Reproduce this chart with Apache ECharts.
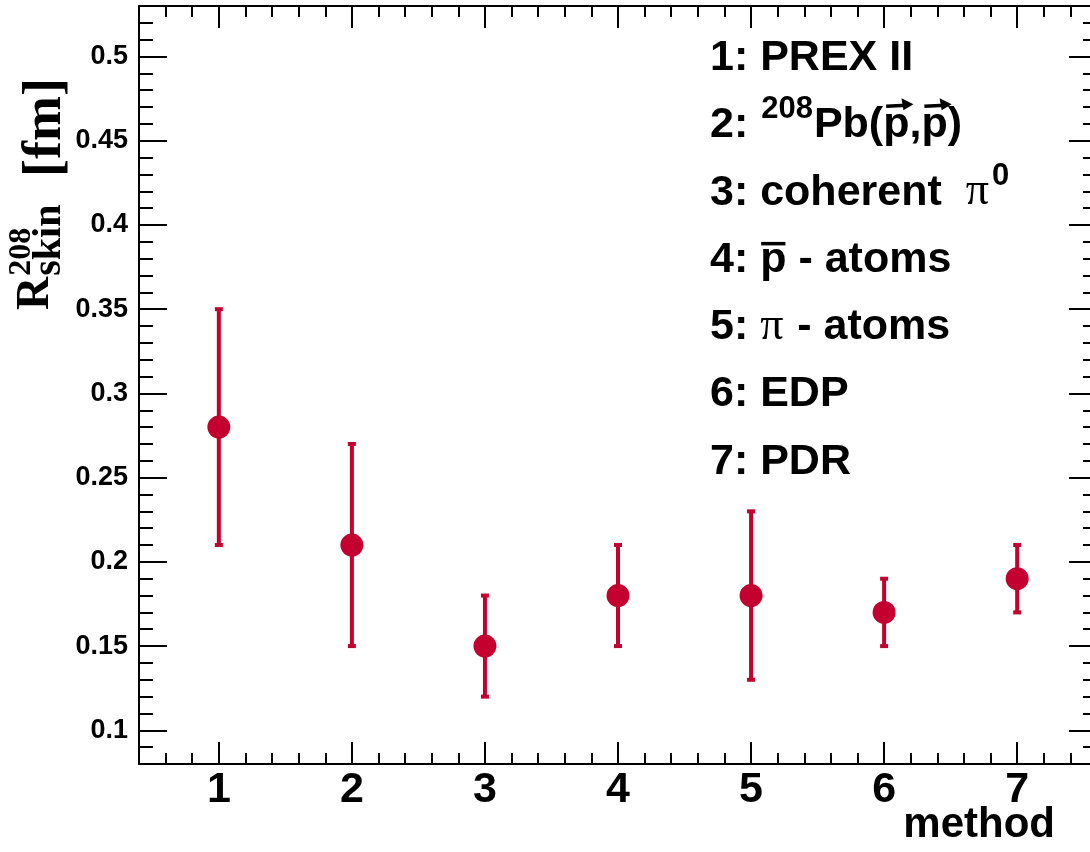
<!DOCTYPE html>
<html><head><meta charset="utf-8">
<script src="https://cdn.jsdelivr.net/npm/echarts@6/dist/echarts.min.js"></script>
<style>html,body{margin:0;padding:0;background:#fff;overflow:hidden;width:1090px;height:852px}#c{width:1100px;height:852px}</style>
</head><body><div id="c"></div>
<script>
// ---- data ----
const methods = [1, 2, 3, 4, 5, 6, 7];
const skin = [0.28, 0.21, 0.15, 0.18, 0.18, 0.17, 0.19];
const errLow = [0.21, 0.15, 0.12, 0.15, 0.13, 0.15, 0.17];
const errHigh = [0.35, 0.27, 0.18, 0.21, 0.23, 0.19, 0.21];
const xTickValues = [1, 2, 3, 4, 5, 6, 7];
const xTickLabels = ['1', '2', '3', '4', '5', '6', '7'];
const yTickValues = [0.1, 0.15, 0.2, 0.25, 0.3, 0.35, 0.4, 0.45, 0.5];
const yTickLabels = ['0.1', '0.15', '0.2', '0.25', '0.3', '0.35', '0.4', '0.45', '0.5'];
const xTitle = 'method';
const legendLines = [
  [{t: '1: PREX II'}],
  [{t: '2: '}, {t: '208', sup: true}, {t: 'Pb('}, {t: 'p', vec: true}, {t: ','}, {t: 'p', vec: true}, {t: ')'}],
  [{t: '3: coherent  '}, {t: 'π', serif: true}, {t: '0', sup: true}],
  [{t: '4: '}, {t: 'p', bar: true}, {t: ' - atoms'}],
  [{t: '5: '}, {t: 'π', serif: true}, {t: ' - atoms'}],
  [{t: '6: EDP'}],
  [{t: '7: PDR'}]
];

// ---- style ----
const RED = '#c3002f';
const SANS = '"Liberation Sans", Arial, Helvetica, sans-serif';
const SERIF = '"Liberation Serif", "Times New Roman", serif';
const X_MIN = 0.4, X_MAX = 7.6, Y_MIN = 0.08, Y_MAX = 0.53;

const xMinor = [];
for (let k = 3; k <= 37; k++) if (k % 5 !== 0) xMinor.push(k / 5);
const yMinor = [];
for (let k = 9; k <= 52; k++) if (k % 5 !== 0) yMinor.push(k / 100);

const ctx2 = document.createElement('canvas').getContext('2d');
function tw(text, size, family, weight) {
  ctx2.font = (weight || 'normal') + ' ' + size + 'px ' + family;
  return ctx2.measureText(text).width;
}
const KS = 0.3465, KR = 0.3375; // middle->baseline factors
function txt(text, x, baseline, size, family, weight, align) {
  const k = family === SERIF ? KR : KS;
  return {
    type: 'text', x: x, y: baseline - k * size, silent: true,
    style: {text: text, fontSize: size, fontFamily: family, fontWeight: weight || 'normal',
      fill: '#000', align: align || 'left', verticalAlign: 'middle'}
  };
}

// ---- legend text ----
const graphics = [];
const LX = 710, LB0 = 73, LSTEP = 67.3, LF = 43, SUPF = 31;
legendLines.forEach((segs, i) => {
  const base = LB0 + i * LSTEP;
  let x = LX;
  segs.forEach(s => {
    if (s.sup) {
      graphics.push(txt(s.t, x + 1, base - 20, SUPF, SANS, 'bold'));
      x += tw(s.t, SUPF, SANS, 'bold') + 2;
    } else if (s.serif) {
      graphics.push(txt(s.t, x, base, 46, SERIF, 'normal'));
      x += tw(s.t, 46, SERIF, 'normal') + 2;
    } else {
      const w = tw(s.t, LF, SANS, 'bold');
      graphics.push(txt(s.t, x, base, LF, SANS, 'bold'));
      if (s.vec) {
        const y = base - 35;
        graphics.push({type: 'line', silent: true, shape: {x1: x + 3, y1: y + 1, x2: x + w - 2, y2: y},
          style: {stroke: '#000', lineWidth: 3.5}});
        graphics.push({type: 'polygon', silent: true,
          shape: {points: [[x + w + 4, y - 1], [x + w - 8, y - 7], [x + w - 6, y + 5]]},
          style: {fill: '#000'}});
      }
      if (s.bar) {
        graphics.push({type: 'rect', silent: true, shape: {x: x + 1, y: base - 33, width: w - 2, height: 3.5},
          style: {fill: '#000'}});
      }
      x += w;
    }
  });
});

// x title
graphics.push(txt(xTitle, 1055, 840, 42, SANS, 'bold', 'right'));

// y title (rotated)
const RF = 46, SF = 32, BF = 40, FMF = 54;
const rW = tw('R', RF, SERIF, 'bold');
const subEnd = rW + 1 + Math.max(tw('208', SF, SERIF, 'bold'), tw('skin', BF, SERIF, 'bold'));
graphics.push({
  type: 'group', x: 52, y: 310, rotation: Math.PI / 2, silent: true,
  children: [
    txt('R', 0, 0, RF, SERIF, 'bold'),
    txt('208', rW + 1, -19, SF, SERIF, 'bold'),
    txt('skin', rW + 1, 11, BF, SERIF, 'bold'),
    txt('[fm]', Math.max(133, subEnd + 16), 12, FMF, SERIF, 'bold')
  ]
});

// ---- axes ----
const LINE = {show: true, lineStyle: {color: '#000', width: 2}};
function xAxis(pos, ticks, len, line, labels) {
  return {
    type: 'value', min: X_MIN, max: X_MAX, position: pos,
    axisLine: line ? LINE : {show: false},
    axisTick: {show: true, inside: true, length: len, customValues: ticks, lineStyle: {color: '#000', width: 2}},
    axisLabel: labels ? {show: true, customValues: xTickValues, margin: 5, color: '#000', fontSize: 43,
      fontWeight: 'bold', fontFamily: SANS,
      formatter: v => xTickLabels[xTickValues.indexOf(Math.round(v))]} : {show: false},
    splitLine: {show: false}
  };
}
function yAxis(pos, ticks, len, line, labels) {
  return {
    type: 'value', min: Y_MIN, max: Y_MAX, position: pos,
    axisLine: line ? LINE : {show: false},
    axisTick: {show: true, inside: true, length: len, customValues: ticks, lineStyle: {color: '#000', width: 2}},
    axisLabel: labels ? {show: true, customValues: yTickValues, margin: 11, color: '#000', fontSize: 27,
      fontWeight: 'bold', fontFamily: SANS,
      formatter: v => {
        let best = 0;
        yTickValues.forEach((t, i) => { if (Math.abs(t - v) < Math.abs(yTickValues[best] - v)) best = i; });
        return yTickLabels[best];
      }} : {show: false},
    splitLine: {show: false}
  };
}

const chart = echarts.init(document.getElementById('c'), null, {renderer: 'canvas'});
chart.setOption({
  backgroundColor: '#fff',
  animation: false,
  grid: {left: 139, top: 6, width: 958, height: 758, containLabel: false},
  xAxis: [
    xAxis('bottom', xTickValues, 22, true, true),
    xAxis('bottom', xMinor, 11, false, false),
    xAxis('top', xTickValues, 22, true, false),
    xAxis('top', xMinor, 11, false, false)
  ],
  yAxis: [
    yAxis('left', yTickValues, 28, true, true),
    yAxis('left', yMinor, 14, false, false),
    yAxis('right', yTickValues, 28, true, false),
    yAxis('right', yMinor, 14, false, false)
  ],
  series: [
    {
      type: 'custom', xAxisIndex: 0, yAxisIndex: 0, silent: true,
      data: methods.map((m, i) => [m, errLow[i], errHigh[i]]),
      encode: {x: 0, y: [1, 2]},
      renderItem: function (params, api) {
        const x = api.value(0), lo = api.value(1), hi = api.value(2);
        const a = api.coord([x, lo]), b = api.coord([x, hi]);
        return {type: 'group', children: [
          {type: 'line', shape: {x1: a[0], y1: a[1], x2: b[0], y2: b[1]}, style: {stroke: RED, lineWidth: 4}},
          {type: 'rect', shape: {x: b[0] - 4, y: b[1] - 2, width: 8, height: 4}, style: {fill: RED}},
          {type: 'rect', shape: {x: a[0] - 4, y: a[1] - 2, width: 8, height: 4}, style: {fill: RED}}
        ]};
      }
    },
    {
      type: 'scatter', xAxisIndex: 0, yAxisIndex: 0, silent: true,
      data: methods.map((m, i) => [m, skin[i]]),
      symbol: 'circle', symbolSize: 23,
      itemStyle: {color: RED, opacity: 1}
    }
  ],
  graphic: {elements: graphics}
});
</script>
</body></html>
